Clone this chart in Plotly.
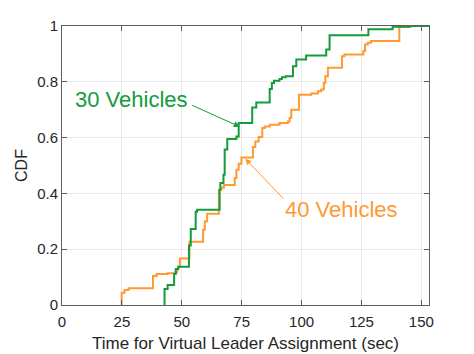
import plotly.graph_objects as go

# 30 vehicles CDF steps (x = time, y = cumulative after the jump)
x30 = [42.8, 42.8, 44.1, 46.8, 47.5, 48.5, 53.0, 53.75, 55.8, 56.4, 65.8, 66.1, 67.4, 67.9, 69.0,
       72.8, 73.75, 79.4, 81.1, 86.7, 87.6, 88.5, 90.8, 91.8, 93.3, 96.4, 97.8, 101.9, 110.3,
       111.7, 127.9, 138.0, 145.0, 153.5]
y30 = [0.0, 0.057, 0.072, 0.111, 0.129, 0.137, 0.213, 0.272, 0.334, 0.341, 0.413, 0.437, 0.467, 0.557, 0.595,
       0.604, 0.652, 0.708, 0.726, 0.774, 0.796, 0.804, 0.810, 0.816, 0.82, 0.856, 0.88, 0.894, 0.916,
       0.967, 0.988, 0.997, 1.0, 1.0]

# 40 vehicles CDF steps
x40 = [24.9, 24.9, 26.1, 27.8, 38.0, 39.5, 44.0, 47.2, 48.0, 48.6, 49.2, 53.2, 58.9, 59.6, 60.6, 65.5,
       66.5, 67.6, 72.1, 72.8, 73.75, 74.9, 79.7, 80.7, 82.1, 83.6, 84.6, 86.7, 90.8, 94.3, 95.0,
       95.7, 98.9, 104.0, 106.8, 108.2, 109.3, 109.9, 111.0, 116.9, 117.9, 125.8, 126.5, 127.6, 129.0,
       140.8, 145.7, 153.5]
y40 = [0.0, 0.044, 0.054, 0.06, 0.104, 0.111, 0.114, 0.117, 0.128, 0.137, 0.167, 0.227, 0.27, 0.30, 0.327, 0.413,
       0.42, 0.43, 0.455, 0.485, 0.506, 0.529, 0.566, 0.586, 0.602, 0.634, 0.64, 0.646, 0.652, 0.658, 0.67,
       0.70, 0.754, 0.758, 0.766, 0.772, 0.796, 0.82, 0.85, 0.892, 0.898, 0.91, 0.934, 0.94, 0.946,
       0.997, 1.0, 1.0]

xticks = [0, 25, 50, 75, 100, 125, 150]
yticks = [0, 0.2, 0.4, 0.6, 0.8, 1]
ytick_labels = ["0", "0.2", "0.4", "0.6", "0.8", "1"]

GREEN = "#139b3c"
ORANGE = "#ff9933"
FONT = "Liberation Sans"

fig = go.Figure()
fig.add_trace(go.Scatter(x=x40, y=y40, mode="lines", line=dict(color=ORANGE, width=2, shape="hv"),
                         name="40 Vehicles", showlegend=False))
fig.add_trace(go.Scatter(x=x30, y=y30, mode="lines", line=dict(color=GREEN, width=2, shape="hv"),
                         name="30 Vehicles", showlegend=False))

axis_common = dict(showline=True, linecolor="#5f5f5f", linewidth=1, mirror="ticks",
                   ticks="inside", ticklen=5, tickcolor="#5f5f5f", automargin=False,
                   showgrid=True, gridcolor="#e8e8e8", gridwidth=1, zeroline=False,
                   tickfont=dict(family=FONT, size=15, color="#262626"))

fig.update_xaxes(range=[0, 153.2], tickvals=xticks, ticktext=[str(v) for v in xticks],
                 ticklabelstandoff=3,
                 title=dict(text="Time for Virtual Leader Assignment (sec)", standoff=8,
                            font=dict(family=FONT, size=17, color="#262626")),
                 **axis_common)
fig.update_yaxes(range=[0, 1], tickvals=yticks, ticktext=ytick_labels,
                 title=dict(text="CDF", standoff=5, font=dict(family=FONT, size=16, color="#262626")),
                 **axis_common)

fig.add_annotation(x=29.2, y=0.736, text="30 Vehicles", showarrow=False,
                   font=dict(family=FONT, size=22, color=GREEN))
fig.add_annotation(x=116.5, y=0.343, text="40 Vehicles", showarrow=False,
                   font=dict(family=FONT, size=22, color=ORANGE))
fig.add_annotation(x=74.2, y=0.639, ax=53.75, ay=0.718, axref="x", ayref="y", text="",
                   showarrow=True, arrowhead=2, arrowsize=1.2, arrowwidth=1, arrowcolor=GREEN)
fig.add_annotation(x=76.5, y=0.524, ax=92.9, ay=0.377, axref="x", ayref="y", text="",
                   showarrow=True, arrowhead=2, arrowsize=1.2, arrowwidth=1, arrowcolor=ORANGE)

# page body has an 8px margin, so the figure is sized to fill the remaining window
fig.update_layout(width=466, height=346, margin=dict(l=54, r=45, t=18, b=49),
                  paper_bgcolor="white", plot_bgcolor="white",
                  font=dict(family=FONT))

fig.write_html("out.html")
